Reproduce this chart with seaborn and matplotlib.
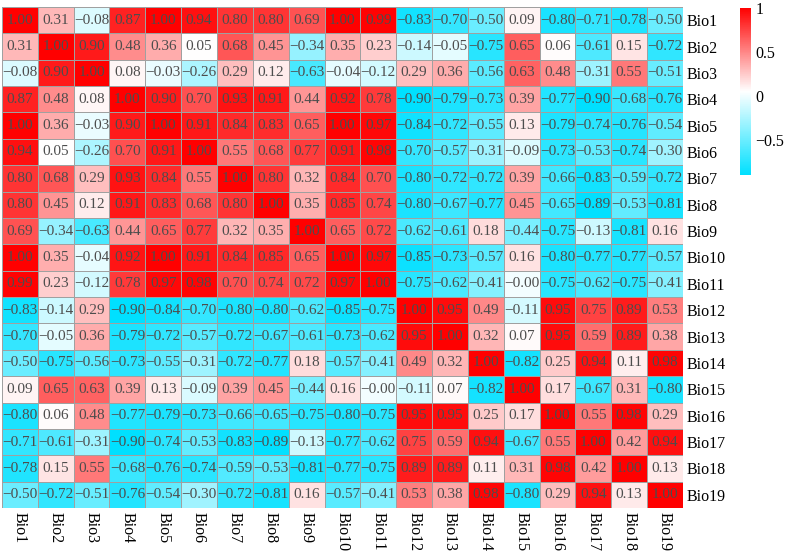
import numpy as np
import pandas as pd
import matplotlib
matplotlib.use("Agg")
import matplotlib.pyplot as plt
from matplotlib.colors import LinearSegmentedColormap
import seaborn as sns

# Bioclim variable names
variables = ["Bio%d" % i for i in range(1, 20)]

# Pearson correlation values (row by row)
bio1 = [1.00, 0.31, -0.08, 0.87, 1.00, 0.94, 0.80, 0.80, 0.69, 1.00, 0.99, -0.83, -0.70, -0.50, 0.09, -0.80, -0.71, -0.78, -0.50]
bio2 = [0.31, 1.00, 0.90, 0.48, 0.36, 0.05, 0.68, 0.45, -0.34, 0.35, 0.23, -0.14, -0.05, -0.75, 0.65, 0.06, -0.61, 0.15, -0.72]
bio3 = [-0.08, 0.90, 1.00, 0.08, -0.03, -0.26, 0.29, 0.12, -0.63, -0.04, -0.12, 0.29, 0.36, -0.56, 0.63, 0.48, -0.31, 0.55, -0.51]
bio4 = [0.87, 0.48, 0.08, 1.00, 0.90, 0.70, 0.93, 0.91, 0.44, 0.92, 0.78, -0.90, -0.79, -0.73, 0.39, -0.77, -0.90, -0.68, -0.76]
bio5 = [1.00, 0.36, -0.03, 0.90, 1.00, 0.91, 0.84, 0.83, 0.65, 1.00, 0.97, -0.84, -0.72, -0.55, 0.13, -0.79, -0.74, -0.76, -0.54]
bio6 = [0.94, 0.05, -0.26, 0.70, 0.91, 1.00, 0.55, 0.68, 0.77, 0.91, 0.98, -0.70, -0.57, -0.31, -0.09, -0.73, -0.53, -0.74, -0.30]
bio7 = [0.80, 0.68, 0.29, 0.93, 0.84, 0.55, 1.00, 0.80, 0.32, 0.84, 0.70, -0.80, -0.72, -0.72, 0.39, -0.66, -0.83, -0.59, -0.72]
bio8 = [0.80, 0.45, 0.12, 0.91, 0.83, 0.68, 0.80, 1.00, 0.35, 0.85, 0.74, -0.80, -0.67, -0.77, 0.45, -0.65, -0.89, -0.53, -0.81]
bio9 = [0.69, -0.34, -0.63, 0.44, 0.65, 0.77, 0.32, 0.35, 1.00, 0.65, 0.72, -0.62, -0.61, 0.18, -0.44, -0.75, -0.13, -0.81, 0.16]
bio10 = [1.00, 0.35, -0.04, 0.92, 1.00, 0.91, 0.84, 0.85, 0.65, 1.00, 0.97, -0.85, -0.73, -0.57, 0.16, -0.80, -0.77, -0.77, -0.57]
bio11 = [0.99, 0.23, -0.12, 0.78, 0.97, 0.98, 0.70, 0.74, 0.72, 0.97, 1.00, -0.75, -0.62, -0.41, -0.0, -0.75, -0.62, -0.75, -0.41]
bio12 = [-0.83, -0.14, 0.29, -0.90, -0.84, -0.70, -0.80, -0.80, -0.62, -0.85, -0.75, 1.00, 0.95, 0.49, -0.11, 0.95, 0.75, 0.89, 0.53]
bio13 = [-0.70, -0.05, 0.36, -0.79, -0.72, -0.57, -0.72, -0.67, -0.61, -0.73, -0.62, 0.95, 1.00, 0.32, 0.07, 0.95, 0.59, 0.89, 0.38]
bio14 = [-0.50, -0.75, -0.56, -0.73, -0.55, -0.31, -0.72, -0.77, 0.18, -0.57, -0.41, 0.49, 0.32, 1.00, -0.82, 0.25, 0.94, 0.11, 0.98]
bio15 = [0.09, 0.65, 0.63, 0.39, 0.13, -0.09, 0.39, 0.45, -0.44, 0.16, -0.0, -0.11, 0.07, -0.82, 1.00, 0.17, -0.67, 0.31, -0.80]
bio16 = [-0.80, 0.06, 0.48, -0.77, -0.79, -0.73, -0.66, -0.65, -0.75, -0.80, -0.75, 0.95, 0.95, 0.25, 0.17, 1.00, 0.55, 0.98, 0.29]
bio17 = [-0.71, -0.61, -0.31, -0.90, -0.74, -0.53, -0.83, -0.89, -0.13, -0.77, -0.62, 0.75, 0.59, 0.94, -0.67, 0.55, 1.00, 0.42, 0.94]
bio18 = [-0.78, 0.15, 0.55, -0.68, -0.76, -0.74, -0.59, -0.53, -0.81, -0.77, -0.75, 0.89, 0.89, 0.11, 0.31, 0.98, 0.42, 1.00, 0.13]
bio19 = [-0.50, -0.72, -0.51, -0.76, -0.54, -0.30, -0.72, -0.81, 0.16, -0.57, -0.41, 0.53, 0.38, 0.98, -0.80, 0.29, 0.94, 0.13, 1.00]

rows = [bio1, bio2, bio3, bio4, bio5, bio6, bio7, bio8, bio9, bio10,
        bio11, bio12, bio13, bio14, bio15, bio16, bio17, bio18, bio19]
corr_df = pd.DataFrame(rows, index=variables, columns=variables)

# text labels with a proper minus sign
annot_labels = corr_df.map(lambda v: "{:.2f}".format(v).replace("-", "\u2212"))

# cyan -> white -> red, like the pheatmap palette
cmap = LinearSegmentedColormap.from_list("cwr", ["#00e0ff", "#ffffff", "#ff0000"])

plt.rcParams["font.family"] = ["Liberation Serif", "DejaVu Serif"]
plt.rcParams["axes.unicode_minus"] = True

fig = plt.figure(figsize=(7.89, 5.57), dpi=100)
ax = fig.add_axes([0.0025, 0.088, 0.863, 0.8995])
cax = fig.add_axes([0.938, 0.686, 0.014, 0.300])

sns.heatmap(corr_df, ax=ax, cbar_ax=cax, cmap=cmap, vmin=-0.9, vmax=1.0,
            annot=annot_labels, fmt="", linewidths=0.6, linecolor="#a0a0a0",
            annot_kws={"fontsize": 11, "color": "#4d4d4d"})

ax.yaxis.tick_right()
ax.set_yticklabels(variables, rotation=0, fontsize=11.5)
ax.set_xticklabels(variables, rotation=-90, fontsize=11.5, va="top")
ax.tick_params(length=0, pad=3)
ax.set_xlabel("")
ax.set_ylabel("")

cbar = ax.collections[0].colorbar
cbar.outline.set_visible(False)
cbar.set_ticks([-0.5, 0, 0.5, 1])
cbar.set_ticklabels(["\u22120.5", "0", "0.5", "1"])
cbar.ax.tick_params(length=0, labelsize=11.5, pad=3)

fig.savefig("out.png", dpi=100)
